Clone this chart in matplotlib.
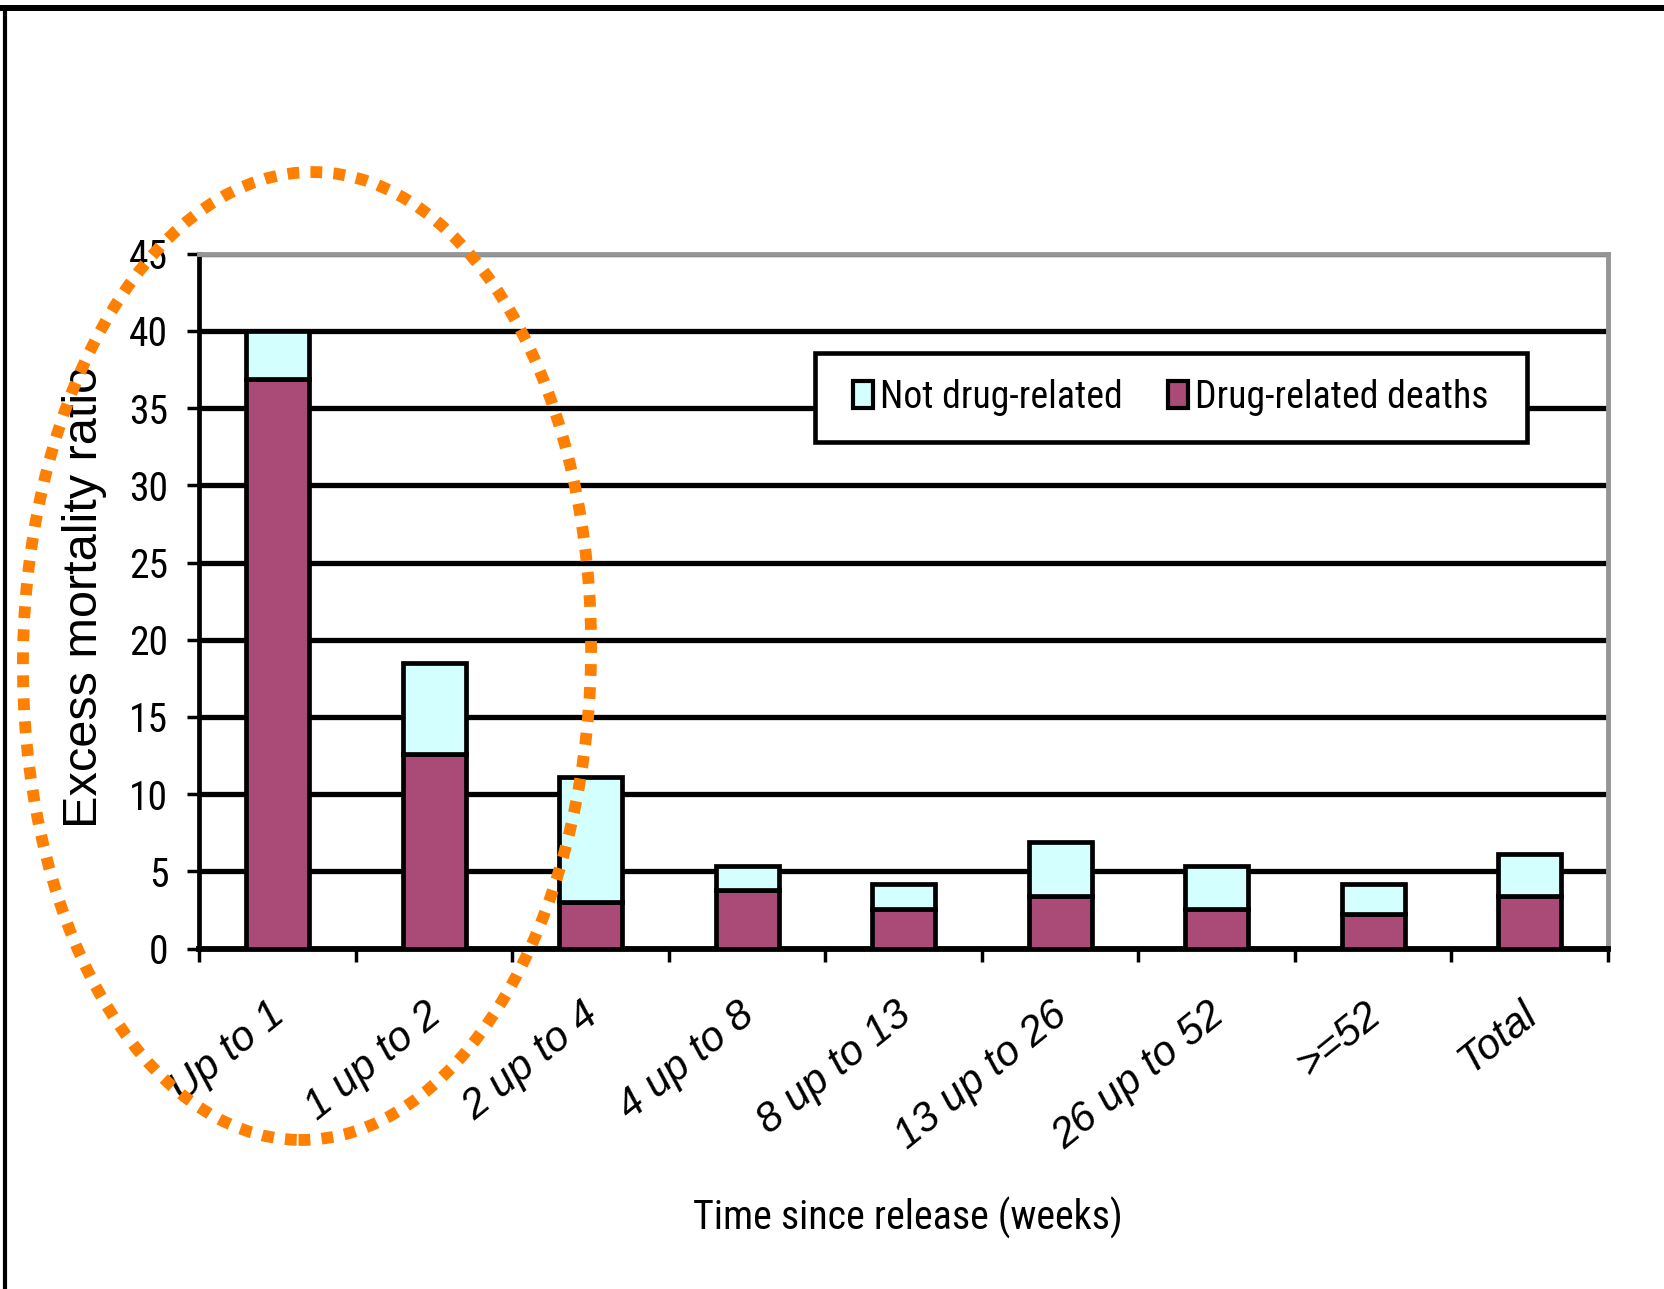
import numpy as np
import matplotlib
matplotlib.use("Agg")
import matplotlib.pyplot as plt
from matplotlib.patches import Ellipse, Rectangle
from matplotlib.lines import Line2D
from matplotlib import font_manager as fm
from matplotlib.font_manager import FontProperties

# ---- data ----
categories = ["Up to 1", "1 up to 2", "2 up to 4", "4 up to 8", "8 up to 13",
              "13 up to 26", "26 up to 52", ">=52", "Total"]
drug_related = [36.9, 12.6, 3.0, 3.8, 2.6, 3.4, 2.6, 2.25, 3.4]
not_drug_related = [3.1, 5.9, 8.1, 1.55, 1.6, 3.5, 2.75, 1.95, 2.7]
y_ticks = [0, 5, 10, 15, 20, 25, 30, 35, 40, 45]
series_labels = ["Not drug-related", "Drug-related deaths"]
x_title = "Time since release (weeks)"
y_title = "Excess mortality ratio"

PURPLE = "#AA4A77"
CYAN = "#D4FFFF"
ORANGE = "#FF8000"
REG = "Liberation Sans"

# pick an Arial-Narrow-like font if available, else regular Liberation Sans
names = {f.name: f for f in fm.fontManager.ttflist}
narrow_family = REG
for cand in ["Liberation Sans Narrow", "Arial Narrow", "Roboto Condensed",
             "Noto Sans Condensed", "Open Sans Condensed", "Noto Sans SemiCondensed",
             "Open Sans SemiCondensed"]:
    if cand in names:
        narrow_family = cand
        break

fig = plt.figure(figsize=(16.64, 12.89), dpi=100)
renderer = fig.canvas.get_renderer()


def fitted(text, target_px, base=30.0):
    p = FontProperties(family=narrow_family, size=base)
    w, h, d = renderer.get_text_width_height_descent(text, p, ismath=False)
    p.set_size(base * target_px / w)
    return p


P_TICK = fitted("40", 39.0)
P_LEG = fitted(series_labels[0], 242.0)
P_XLAB = fitted(x_title, 430.0)

ax = fig.add_axes([0.11989, 0.26401, 0.84645, 0.53926])

x = np.arange(len(categories))
b_drug = ax.bar(x, drug_related, 0.4, color=PURPLE, edgecolor="black",
                linewidth=3.4, zorder=3, label=series_labels[1])
b_not = ax.bar(x, not_drug_related, 0.4, bottom=drug_related, color=CYAN,
               edgecolor="black", linewidth=3.4, zorder=3, label=series_labels[0])

ax.set_xlim(-0.5, len(categories) - 0.5)
ax.set_ylim(0, 45)
ax.set_yticks(y_ticks)
ax.set_yticklabels([str(t) for t in y_ticks], fontproperties=P_TICK)
ax.yaxis.grid(True, color="black", linewidth=3.8)
ax.set_axisbelow(True)

ax.tick_params(axis="y", direction="out", length=8.5, width=2.5, pad=14,
               colors="black", right=False)
# category labels (slightly left of bar centres, as in the original)
ax.set_xticks(x - 0.065)
ax.set_xticklabels(categories, rotation=39, ha="right", va="top",
                   rotation_mode="anchor", fontsize=30, fontstyle="italic",
                   family=REG)
ax.tick_params(axis="x", which="major", length=0, pad=33)
ax.set_xticks(np.arange(-0.5, len(categories), 1.0), minor=True)
ax.tick_params(axis="x", which="minor", direction="out", length=9, width=2.5,
               color="black")

ax.spines["left"].set_color("black")
ax.spines["left"].set_linewidth(3.4)
ax.spines["bottom"].set_color("black")
ax.spines["bottom"].set_linewidth(4.2)
for s in ("top", "right"):
    ax.spines[s].set_color("#969696")
    ax.spines[s].set_linewidth(3.5)

ax.set_ylabel(y_title, fontsize=35, family=REG)
ax.yaxis.set_label_coords(-0.0813, 0.506)
ax.yaxis.label.set_va("center")
ax.yaxis.label.set_ha("center")

ax.set_xlabel(x_title, fontproperties=P_XLAB)
ax.xaxis.set_label_coords(0.503, -0.4047)
ax.xaxis.label.set_va("baseline")

# legend box
W, H = 1664.0, 1289.0
box = Rectangle((815 / W, 1 - 442 / H), (1527 - 815) / W, (442 - 353) / H,
                transform=fig.transFigure, facecolor="white", edgecolor="black",
                linewidth=3.3, zorder=4)
fig.add_artist(box)
fs_px = P_LEG.get_size_in_points() * 100 / 72.0
leg = fig.legend(handles=[b_not, b_drug], labels=series_labels, loc="center",
                 bbox_to_anchor=((815 + 1527) / 2 / W, 1 - (353 + 442) / 2 / H),
                 bbox_transform=fig.transFigure, ncol=2, frameon=False,
                 prop=P_LEG,
                 handlelength=20 / fs_px, handleheight=27 / fs_px,
                 handletextpad=7 / fs_px, columnspacing=45 / fs_px, borderpad=0)
leg.set_zorder(5)
for hdl in leg.legend_handles:
    hdl.set_linewidth(3.0)

# orange dotted ellipse
ell = Ellipse((307 / 100, (H - 656) / 100), 5.68, 9.68, angle=-1,
              transform=fig.dpi_scale_trans, fill=False, edgecolor=ORANGE,
              linewidth=8.5, linestyle=(0, (1.0, 0.95)), zorder=10)
fig.add_artist(ell)

# figure frame (top and left)
fig.add_artist(Line2D([0, 1], [1 - 8 / H, 1 - 8 / H], transform=fig.transFigure,
                      color="black", linewidth=4.3, solid_capstyle="butt"))
fig.add_artist(Line2D([4.5 / W, 4.5 / W], [0, 1 - 6 / H], transform=fig.transFigure,
                      color="black", linewidth=3.0, solid_capstyle="butt"))

fig.savefig("out.png", dpi=100)
